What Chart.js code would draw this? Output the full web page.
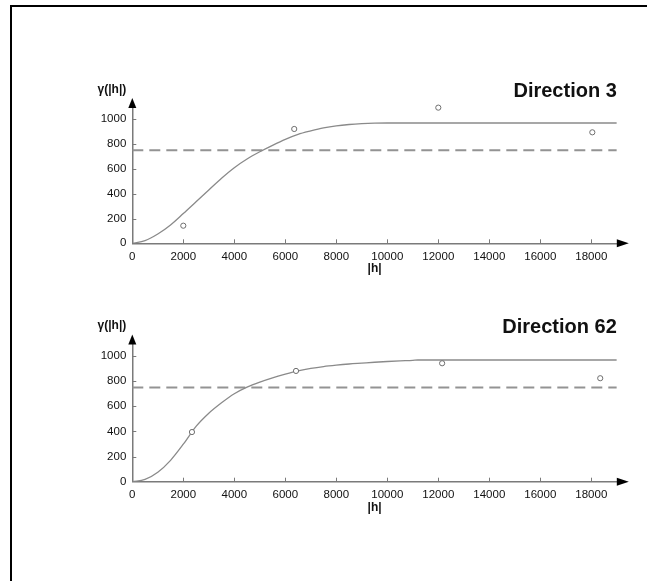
<!DOCTYPE html>
<html>
<head>
<meta charset="utf-8">
<script src="https://cdn.jsdelivr.net/npm/chart.js@4/dist/chart.umd.min.js"></script>
<style>
  html, body { margin: 0; padding: 0; background: #fff; }
  body { width: 647px; height: 581px; position: relative; overflow: hidden; }
  .frame { position: absolute; left: 10px; top: 5px; width: 700px; height: 700px;
           border-top: 2px solid #000; border-left: 2px solid #000; }
  .plot { position: absolute; left: 0; }
  canvas { display: block; }
</style>
</head>
<body>
<div class="frame"></div>
<div class="plot" style="top:0px"><canvas id="dir3" width="647" height="290"></canvas></div>
<div class="plot" style="top:290px"><canvas id="dir62" width="647" height="291"></canvas></div>
<script>
// Axis ticks shared by both variograms
const lagTicks = [0, 2000, 4000, 6000, 8000, 10000, 12000, 14000, 16000, 18000];
const gammaTicks = [0, 200, 400, 600, 800, 1000];
const lagMax = 19000;
const gammaMax = 1100;
const sill = 750;

// Direction 3: experimental variogram points
const dir3Lags  = [2000, 6350, 12000, 18040];
const dir3Gamma = [142, 922, 1094, 895];
// Direction 3: fitted model curve
const dir3ModelLags  = [0, 500, 1000, 1500, 2000, 2500, 3000, 3500, 4000, 4500, 5000, 5500, 6000, 6500, 7000, 7500, 8000, 8500, 9000, 9500, 10000, 19000];
const dir3ModelGamma = [0, 22, 75, 148, 240, 335, 430, 525, 610, 680, 738, 790, 838, 878, 906, 930, 947, 958, 965, 969, 970, 970];

// Direction 62: experimental variogram points
const dir62Lags  = [2340, 6420, 12150, 18350];
const dir62Gamma = [395, 881, 942, 823];
// Direction 62: fitted model curve
const dir62ModelLags  = [0, 500, 1000, 1500, 2000, 2500, 3000, 3500, 4000, 4500, 5000, 5500, 6000, 6500, 7000, 7500, 8000, 8500, 9000, 9500, 10000, 10500, 11000, 11200, 19000];
const dir62ModelGamma = [0, 18, 75, 170, 298, 440, 545, 628, 700, 752, 792, 826, 855, 881, 901, 916, 927, 936, 943, 950, 956, 961, 965, 968, 968];

const TICK_FONT = '"Liberation Sans", Arial, Helvetica, sans-serif';
const BOLD_FONT = '"Liberation Sans", Arial, Helvetica, sans-serif';
const AXIS_GREY = '#7a7a7a';

const pairs = (xs, ys) => xs.map((v, i) => ({ x: v, y: ys[i] }));

// Arrow heads, inward tick marks and the two free-standing labels
const axesDecor = {
  id: 'axesDecor',
  afterDraw(chart, args, opts) {
    const { ctx, chartArea: a, scales: { x, y } } = chart;
    ctx.save();
    ctx.strokeStyle = AXIS_GREY;
    ctx.lineWidth = 1;
    ctx.beginPath();
    x.ticks.forEach(t => {
      if (t.value === 0) return;
      const px = Math.round(x.getPixelForValue(t.value)) + 0.5;
      ctx.moveTo(px, a.bottom);
      ctx.lineTo(px, a.bottom - 4);
    });
    y.ticks.forEach(t => {
      if (t.value === 0) return;
      const py = Math.round(y.getPixelForValue(t.value)) + 0.5;
      ctx.moveTo(a.left, py);
      ctx.lineTo(a.left + 4, py);
    });
    ctx.stroke();

    ctx.fillStyle = '#000';
    ctx.beginPath();
    ctx.moveTo(a.left, a.top - 9);
    ctx.lineTo(a.left - 4, a.top + 1);
    ctx.lineTo(a.left + 4, a.top + 1);
    ctx.closePath();
    ctx.fill();
    ctx.beginPath();
    ctx.moveTo(a.right + 12, a.bottom);
    ctx.lineTo(a.right, a.bottom - 4);
    ctx.lineTo(a.right, a.bottom + 4);
    ctx.closePath();
    ctx.fill();

    ctx.fillStyle = '#111';
    ctx.textBaseline = 'alphabetic';
    ctx.font = 'bold 12px ' + BOLD_FONT;
    ctx.textAlign = 'right';
    ctx.fillText('\u03b3(|h|)', a.left - 6, a.top - 14);
    ctx.font = 'bold 20px ' + BOLD_FONT;
    ctx.fillText(opts.label, a.right, a.top - 10);
    ctx.restore();
  }
};

function variogram(canvasId, label, lags, gammas, modelLags, modelGammas, areaTop, areaBottom, canvasHeight) {
  return new Chart(document.getElementById(canvasId), {
    type: 'scatter',
    data: {
      datasets: [
        {
          type: 'scatter',
          data: pairs(lags, gammas),
          pointStyle: 'circle',
          pointRadius: 2.6,
          pointBorderWidth: 1,
          pointBorderColor: '#6e6e6e',
          pointBackgroundColor: '#fff',
          clip: false,
          order: 0
        },
        {
          type: 'line',
          data: pairs(modelLags, modelGammas),
          borderColor: '#8a8a8a',
          borderWidth: 1.3,
          pointRadius: 0,
          cubicInterpolationMode: 'monotone',
          fill: false,
          order: 1
        },
        {
          type: 'line',
          data: [{ x: 0, y: sill }, { x: lagMax, y: sill }],
          borderColor: '#939393',
          borderWidth: 2,
          borderDash: [11, 6],
          pointRadius: 0,
          fill: false,
          order: 2
        }
      ]
    },
    options: {
      responsive: false,
      animation: false,
      devicePixelRatio: 1,
      layout: { padding: { top: areaTop, right: 647 - 616.8, left: 0, bottom: 0 } },
      plugins: {
        legend: { display: false },
        tooltip: { enabled: false },
        axesDecor: { label: label }
      },
      scales: {
        x: {
          type: 'linear',
          min: 0,
          max: lagMax,
          afterBuildTicks: s => { s.ticks = lagTicks.map(v => ({ value: v })); },
          afterFit: s => { s.height = canvasHeight - areaBottom; },
          grid: { display: false, drawTicks: false },
          border: { display: true, color: AXIS_GREY, width: 1.5 },
          ticks: {
            padding: 6.5,
            maxRotation: 0,
            autoSkip: false,
            color: '#111',
            font: { family: TICK_FONT, size: 11.5 },
            callback: v => String(v)
          },
          title: {
            display: true,
            text: '|h|',
            color: '#111',
            font: { family: BOLD_FONT, size: 12, weight: 'bold' },
            padding: { top: 0, bottom: canvasHeight - areaBottom - 33 }
          }
        },
        y: {
          type: 'linear',
          min: 0,
          max: gammaMax,
          afterBuildTicks: s => { s.ticks = gammaTicks.map(v => ({ value: v })); },
          afterFit: s => { s.width = 132.3; },
          grid: { display: false, drawTicks: false },
          border: { display: true, color: AXIS_GREY, width: 1.5 },
          ticks: {
            padding: 6,
            color: '#111',
            font: { family: TICK_FONT, size: 11.5 },
            callback: v => String(v)
          }
        }
      }
    },
    plugins: [axesDecor]
  });
}

variogram('dir3', 'Direction 3', dir3Lags, dir3Gamma, dir3ModelLags, dir3ModelGamma, 106.9, 243.3, 290);
variogram('dir62', 'Direction 62', dir62Lags, dir62Gamma, dir62ModelLags, dir62ModelGamma, 53.4, 191.7, 291);
</script>
</body>
</html>
